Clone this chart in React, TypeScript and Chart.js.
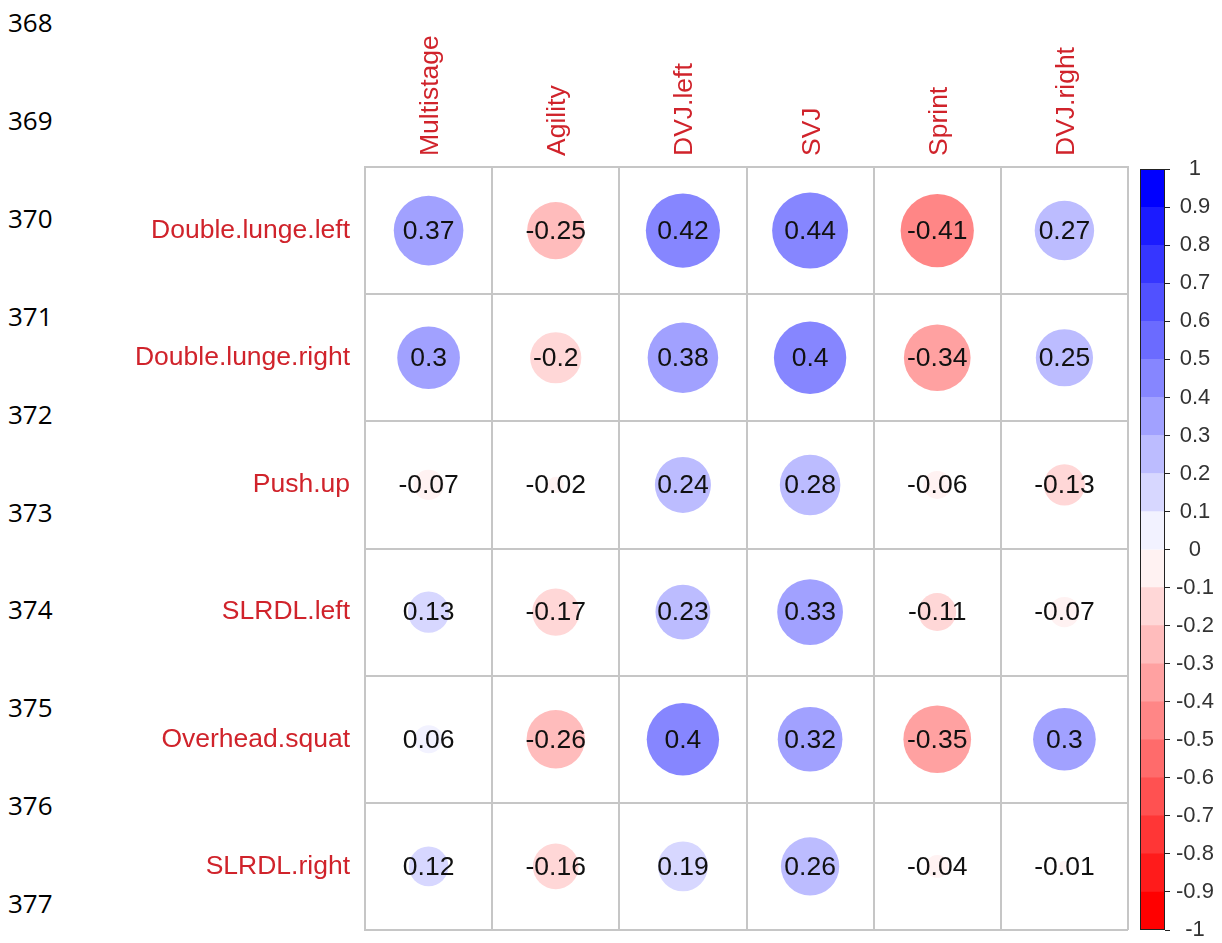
import React, { useEffect, useRef } from 'react';
import { Chart, registerables } from 'chart.js';

Chart.register(...registerables);

// ---------- data ----------
const columns = ['Multistage', 'Agility', 'DVJ.left', 'SVJ', 'Sprint', 'DVJ.right'];
const rows = ['Double.lunge.left', 'Double.lunge.right', 'Push.up', 'SLRDL.left', 'Overhead.squat', 'SLRDL.right'];

const doubleLungeLeft = [0.37, -0.25, 0.42, 0.44, -0.41, 0.27];
const doubleLungeRight = [0.3, -0.2, 0.38, 0.4, -0.34, 0.25];
const pushUp = [-0.07, -0.02, 0.24, 0.28, -0.06, -0.13];
const slrdlLeft = [0.13, -0.17, 0.23, 0.33, -0.11, -0.07];
const overheadSquat = [0.06, -0.26, 0.4, 0.32, -0.35, 0.3];
const slrdlRight = [0.12, -0.16, 0.19, 0.26, -0.04, -0.01];

const legendBreaks = [-1, -0.9, -0.8, -0.7, -0.6, -0.5, -0.4, -0.3, -0.2, -0.1, 0, 0.1, 0.2, 0.3, 0.4, 0.5, 0.6, 0.7, 0.8, 0.9, 1];

const lineNumbers = ['368', '369', '370', '371', '372', '373', '374', '375', '376', '377'];

// ---------- helpers ----------
const FONT = '"Liberation Sans", Arial, sans-serif';
const LABEL_RED = '#d0232b';
const NCOL = 20;

function paletteColor(k: number): string {
  // colorRampPalette(c("red","white","blue"))(20)
  const t = k / (NCOL - 1);
  if (t < 0.5) {
    const g = Math.round(255 * (t / 0.5));
    return `rgb(255,${g},${g})`;
  }
  const c = Math.round(255 * (1 - (t - 0.5) / 0.5));
  return `rgb(${c},${c},255)`;
}

function binOf(v: number): number {
  return Math.min(NCOL - 1, Math.max(0, Math.floor((v + 1) * 10 + 1e-9)));
}

function fmt(v: number): string {
  return String(Number(v.toFixed(2)));
}

const matrix = [doubleLungeLeft, doubleLungeRight, pushUp, slrdlLeft, overheadSquat, slrdlRight];

export default function App() {
  const mainRef = useRef<HTMLCanvasElement | null>(null);
  const barRef = useRef<HTMLCanvasElement | null>(null);

  useEffect(() => {
    const points: { x: string; y: string; v: number }[] = [];
    rows.forEach((r, i) => {
      columns.forEach((c, j) => {
        points.push({ x: c, y: r, v: matrix[i][j] });
      });
    });

    const cellText = {
      id: 'cellText',
      afterDatasetsDraw(chart: any) {
        const meta = chart.getDatasetMeta(0);
        const ctx = chart.ctx;
        ctx.save();
        ctx.font = `26.5px ${FONT}`;
        ctx.fillStyle = '#111111';
        ctx.textAlign = 'center';
        ctx.textBaseline = 'middle';
        meta.data.forEach((el: any, k: number) => {
          const raw = chart.data.datasets[0].data[k] as any;
          ctx.fillText(fmt(raw.v), el.x, el.y + 1);
        });
        ctx.restore();
      },
    };

    const radiusFn = (ctx: any) => {
      const raw = ctx.raw;
      if (!raw) return 0;
      const xs = ctx.chart.scales.x;
      const cell = (xs.right - xs.left) / columns.length;
      return Math.sqrt(Math.abs(raw.v)) * 0.45 * cell;
    };

    const main = new Chart(mainRef.current!, {
      type: 'scatter',
      data: {
        datasets: [
          {
            data: points as any,
            pointRadius: radiusFn,
            pointHoverRadius: radiusFn,
            pointBackgroundColor: (ctx: any) => (ctx.raw ? paletteColor(binOf(ctx.raw.v)) : '#fff'),
            pointBorderWidth: 0,
            pointBorderColor: 'rgba(0,0,0,0)',
          } as any,
        ],
      },
      options: {
        responsive: false,
        animation: false,
        events: [],
        layout: { padding: { left: 0, top: 0, right: 94, bottom: 31 }, autoPadding: false } as any,
        plugins: { legend: { display: false }, tooltip: { enabled: false } },
        scales: {
          x: {
            type: 'category',
            labels: columns,
            position: 'top',
            offset: true,
            grid: { offset: true, color: '#c6c6c6', lineWidth: 2, drawTicks: false },
            border: { display: true, color: '#c6c6c6', width: 2 },
            ticks: {
              autoSkip: false,
              minRotation: 90,
              maxRotation: 90,
              padding: 11,
              labelOffset: 34,
              color: LABEL_RED,
              font: { family: FONT, size: 26.5 },
            },
            afterFit: (scale: any) => {
              scale.height = 167;
            },
          } as any,
          y: {
            type: 'category',
            labels: rows,
            position: 'left',
            offset: true,
            grid: { offset: true, color: '#c6c6c6', lineWidth: 2, drawTicks: false },
            border: { display: true, color: '#c6c6c6', width: 2 },
            ticks: {
              autoSkip: false,
              padding: 15,
              color: LABEL_RED,
              font: { family: FONT, size: 26.5 },
            },
            afterFit: (scale: any) => {
              scale.width = 365;
            },
          } as any,
        },
      },
      plugins: [cellText],
    });

    const barOutline = {
      id: 'barOutline',
      afterDatasetsDraw(chart: any) {
        const a = chart.chartArea;
        const ctx = chart.ctx;
        ctx.save();
        ctx.strokeStyle = '#222222';
        ctx.lineWidth = 1;
        ctx.strokeRect(Math.round(a.left) + 0.5, Math.round(a.top) + 0.5, Math.round(a.right - a.left) - 1, Math.round(a.bottom - a.top) - 1);
        ctx.restore();
      },
    };

    const segDatasets = legendBreaks.slice(0, -1).map((lo, k) => ({
      data: [[lo, legendBreaks[k + 1]]],
      backgroundColor: paletteColor(k),
      borderWidth: 0,
      barPercentage: 1,
      categoryPercentage: 1,
      grouped: false,
    }));

    const bar = new Chart(barRef.current!, {
      type: 'bar',
      data: { labels: [''], datasets: segDatasets as any },
      options: {
        responsive: false,
        animation: false,
        events: [],
        layout: { padding: { left: 20, right: 0, top: 17, bottom: 20 }, autoPadding: false } as any,
        plugins: { legend: { display: false }, tooltip: { enabled: false } },
        scales: {
          x: { display: false },
          y: {
            position: 'right',
            min: -1,
            max: 1,
            grid: { drawOnChartArea: false, drawTicks: true, tickLength: 5, color: '#222222', lineWidth: 1 },
            border: { display: false },
            ticks: {
              stepSize: 0.1,
              autoSkip: false,
              padding: 6,
              crossAlign: 'center',
              color: '#333333',
              font: { family: FONT, size: 22 },
              callback: (v: any) => String(Number(Number(v).toFixed(1))),
            },
            afterFit: (scale: any) => {
              scale.width = 57;
            },
          } as any,
        },
      },
      plugins: [barOutline],
    });

    return () => {
      main.destroy();
      bar.destroy();
    };
  }, []);

  return (
    <div
      style={{
        position: 'absolute',
        left: 0,
        top: 0,
        width: 1222,
        height: 943,
        overflow: 'hidden',
        background: '#ffffff',
      }}
    >
      {lineNumbers.map((n, i) => (
        <div
          key={n}
          style={{
            position: 'absolute',
            left: 8,
            top: 22 + i * 97.9,
            transform: 'translateY(-50%)',
            font: '26px "Open Sans", sans-serif',
            lineHeight: '26px',
            color: '#000',
          }}
        >
          {n}
        </div>
      ))}
      <canvas
        ref={mainRef}
        width={1222}
        height={961}
        style={{ position: 'absolute', left: 0, top: 0, width: 1222, height: 961 }}
      />
      <canvas
        ref={barRef}
        width={102}
        height={800}
        style={{ position: 'absolute', left: 1120, top: 150, width: 102, height: 800 }}
      />
    </div>
  );
}
